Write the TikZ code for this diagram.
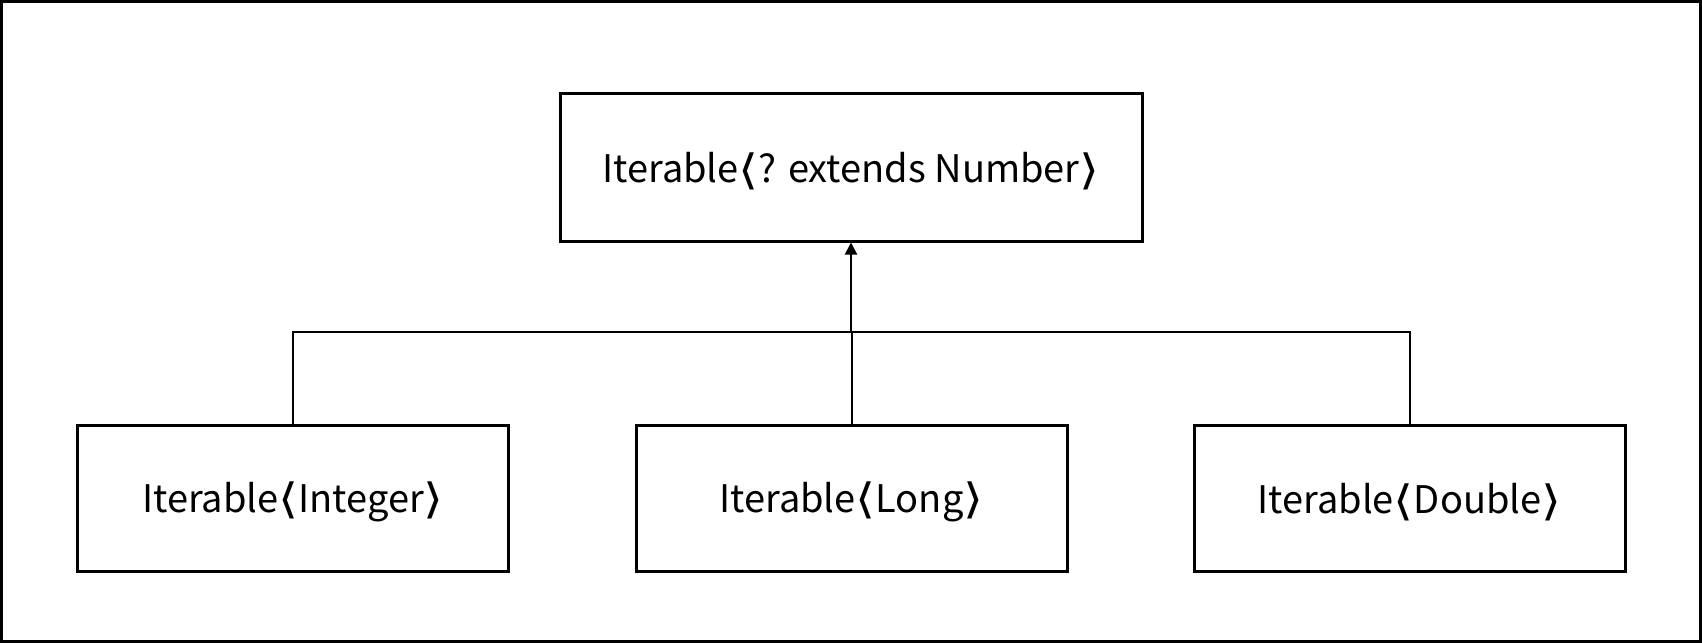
\documentclass[tikz,border=0pt]{standalone}
\usepackage{fontspec}
\usepackage{graphicx}
\setmainfont{Noto Sans CJK KR}
\newfontfamily\brfont{DejaVu Sans}
\usetikzlibrary{arrows.meta}
\newcommand{\la}{\raisebox{-1.5pt}{\scalebox{1.35}[1.1]{\brfont ⟨}}}
\newcommand{\ra}{\raisebox{-1.5pt}{\scalebox{1.35}[1.1]{\brfont ⟩}}}
\newcommand{\lbl}[1]{\raisebox{-4pt}[\height][\depth]{#1}}
\tikzset{
  cls/.style={draw, line width=3pt, minimum width=431pt, minimum height=146pt, inner sep=0pt, font=\fontsize{38}{46}\selectfont},
  conn/.style={line width=2pt},
}
\begin{document}
\begin{tikzpicture}[x=1pt,y=1pt]
\useasboundingbox (0,0) rectangle (1702,-643);
\draw[line width=3pt] (1.5,-1.5) rectangle (1700.5,-641.5);
\node[cls, minimum width=582pt, minimum height=148pt] (top) at (851,-167) {\lbl{Iterable\la? extends Number\ra}};
\node[cls] (left) at (293,-498) {\lbl{Iterable\la Integer\ra}};
\node[cls] (mid) at (851.5,-498) {\lbl{Iterable\la Long\ra}};
\node[cls] (right) at (1409.5,-498) {\lbl{Iterable\la Double\ra}};
\coordinate (bus) at (851,-332);
\draw[conn] (left.north) |- (bus) -| (right.north);
\draw[conn] (mid.north) -- (mid.north |- bus);
\draw[conn, -{Triangle[length=12pt, width=12pt]}] (bus) -- (top.south);
\end{tikzpicture}
\end{document}
